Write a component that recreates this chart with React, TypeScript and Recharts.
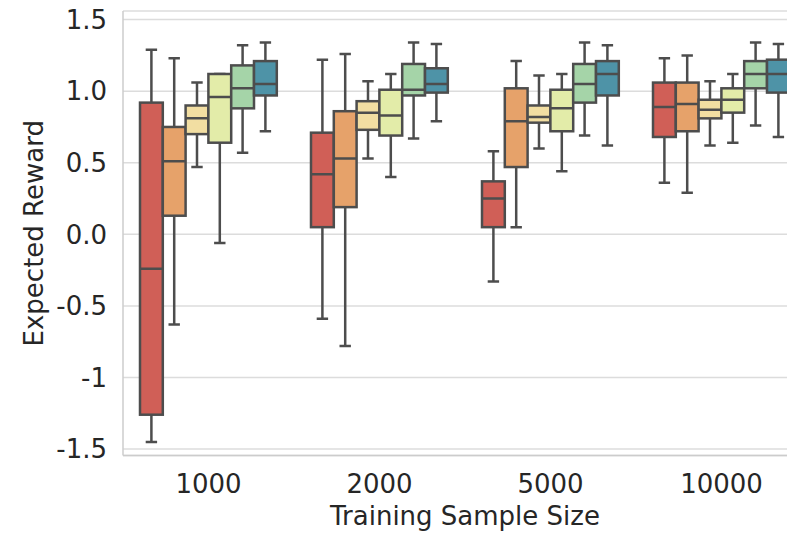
import React from 'react';
import { ComposedChart, Bar, XAxis, YAxis, CartesianGrid, Label } from 'recharts';

// x categories
const sampleSizes = ['1000', '2000', '5000', '10000'];

// y ticks and how they are printed
const rewardTicks = [-1.5, -1, -0.5, 0, 0.5, 1, 1.5];
const rewardTickLabels = ['-1.5', '-1', '-0.5', '0.0', '0.5', '1.0', '1.5'];

// box stats per sample size: [min, q1, median, q3, max]
const hue1 = [
  [-1.45, -1.26, -0.24, 0.92, 1.29],
  [-0.59, 0.05, 0.42, 0.71, 1.22],
  [-0.33, 0.05, 0.25, 0.37, 0.58],
  [0.36, 0.68, 0.89, 1.06, 1.23],
];
const hue2 = [
  [-0.63, 0.13, 0.51, 0.75, 1.23],
  [-0.78, 0.19, 0.53, 0.86, 1.26],
  [0.05, 0.47, 0.79, 1.02, 1.21],
  [0.29, 0.72, 0.91, 1.06, 1.25],
];
const hue3 = [
  [0.47, 0.7, 0.81, 0.9, 1.06],
  [0.53, 0.73, 0.85, 0.93, 1.07],
  [0.6, 0.78, 0.82, 0.9, 1.11],
  [0.62, 0.81, 0.87, 0.94, 1.07],
];
const hue4 = [
  [-0.06, 0.64, 0.96, 1.12, 1.12],
  [0.4, 0.69, 0.83, 1.01, 1.12],
  [0.44, 0.72, 0.88, 1.01, 1.12],
  [0.64, 0.85, 0.94, 1.02, 1.12],
];
const hue5 = [
  [0.57, 0.88, 1.02, 1.18, 1.32],
  [0.67, 0.97, 1.01, 1.19, 1.34],
  [0.69, 0.92, 1.05, 1.19, 1.34],
  [0.76, 1.02, 1.12, 1.21, 1.34],
];
const hue6 = [
  [0.72, 0.97, 1.05, 1.21, 1.34],
  [0.79, 0.99, 1.05, 1.16, 1.33],
  [0.62, 0.97, 1.12, 1.21, 1.32],
  [0.68, 0.99, 1.12, 1.22, 1.33],
];

const hues = [hue1, hue2, hue3, hue4, hue5, hue6];
const hueColors = ['#d05f57', '#e6a26a', '#f2dea2', '#e3eca9', '#a5d4a8', '#4e93a7'];

const EDGE = '#4d4d4d';
const TEXT = '#262626';

const data = sampleSizes.map((name, i) => {
  const row: Record<string, any> = { name };
  hues.forEach((h, k) => {
    row[`h${k}`] = h[i];
  });
  return row;
});

// bar covers [min, max]; the rest is placed inside that span
function BoxShape(props: any) {
  const { x, y, width, height, fill, stats } = props;
  if (!stats) return null;
  const [mn, q1, med, q3, mx] = stats;
  const top = Math.min(y, y + height);
  const bottom = Math.max(y, y + height);
  const k = (bottom - top) / (mx - mn);
  const py = (v: number) => top + (mx - v) * k;
  const cx = x + width / 2;
  const cap = width / 4;
  const sw = 2.5;
  return (
    <g>
      <line x1={cx} x2={cx} y1={py(mx)} y2={py(q3)} stroke={EDGE} strokeWidth={sw} />
      <line x1={cx} x2={cx} y1={py(q1)} y2={py(mn)} stroke={EDGE} strokeWidth={sw} />
      <line x1={cx - cap} x2={cx + cap} y1={py(mx)} y2={py(mx)} stroke={EDGE} strokeWidth={sw} />
      <line x1={cx - cap} x2={cx + cap} y1={py(mn)} y2={py(mn)} stroke={EDGE} strokeWidth={sw} />
      <rect
        x={x}
        y={py(q3)}
        width={width}
        height={py(q1) - py(q3)}
        fill={fill}
        stroke={EDGE}
        strokeWidth={sw}
      />
      <line x1={x} x2={x + width} y1={py(med)} y2={py(med)} stroke={EDGE} strokeWidth={sw} />
    </g>
  );
}

export default function App() {
  return (
    <div
      style={{
        position: 'absolute',
        left: 0,
        top: 0,
        width: 787,
        height: 535,
        overflow: 'hidden',
        background: '#fff',
        fontFamily: '"DejaVu Sans", sans-serif',
      }}
    >
      <ComposedChart
        width={840}
        height={535}
        data={data}
        margin={{ top: 11, right: 33, bottom: 0, left: 0 }}
        barGap={0}
      >
        <CartesianGrid vertical={false} stroke="#dcdcdc" strokeWidth={1.5} />
        <XAxis
          xAxisId="top"
          orientation="top"
          dataKey="name"
          height={0}
          tick={false}
          tickLine={false}
          axisLine={{ stroke: '#cccccc', strokeWidth: 1.5 }}
        />
        <XAxis
          dataKey="name"
          height={79.5}
          interval={0}
          tickLine={false}
          tickSize={0}
          tickMargin={19}
          axisLine={{ stroke: '#cccccc', strokeWidth: 1.5 }}
          tick={{ fontSize: 26, fill: TEXT }}
        >
          <Label
            value="Training Sample Size"
            position="insideBottom"
            offset={10}
            style={{ fontSize: 26, fill: TEXT }}
          />
        </XAxis>
        <YAxis
          type="number"
          width={123}
          domain={[-1.545, 1.56]}
          allowDataOverflow
          ticks={rewardTicks}
          tickFormatter={(v: number) => rewardTickLabels[rewardTicks.indexOf(v)] ?? String(v)}
          tickLine={false}
          tickSize={0}
          tickMargin={16}
          axisLine={{ stroke: '#cccccc', strokeWidth: 1.5 }}
          tick={{ fontSize: 26, fill: TEXT }}
        >
          <Label
            value="Expected Reward"
            angle={-90}
            position="insideLeft"
            offset={34}
            style={{ fontSize: 26, fill: TEXT, textAnchor: 'middle' }}
          />
        </YAxis>
        {hues.map((_, k) => (
          <Bar
            key={k}
            dataKey={(row: any) => [row[`h${k}`][0], row[`h${k}`][4]]}
            barSize={22.8}
            fill={hueColors[k]}
            isAnimationActive={false}
            shape={(p: any) => <BoxShape {...p} stats={p.payload[`h${k}`]} />}
          />
        ))}
      </ComposedChart>
    </div>
  );
}
